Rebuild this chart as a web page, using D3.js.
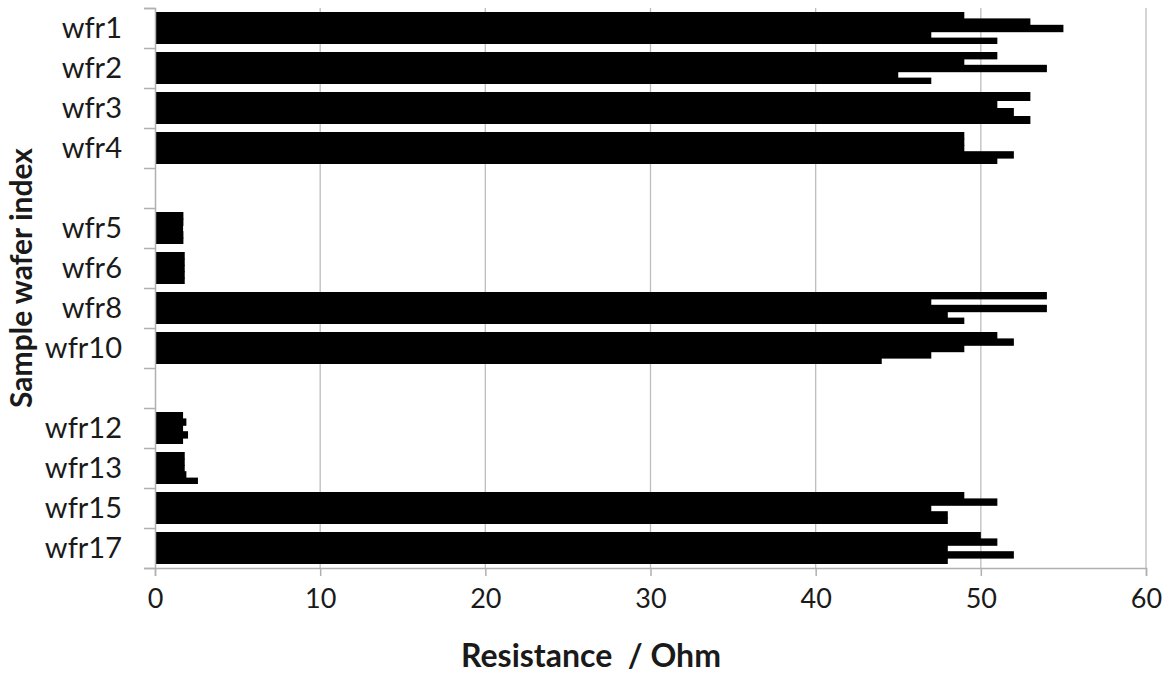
<!DOCTYPE html>
<html>
<head>
<meta charset="utf-8">
<script src="https://cdn.jsdelivr.net/npm/d3@7"></script>
<style>
    body { margin: 0; background: white; }
    svg { display: block; }
</style>
</head>
<body>
<div id="chart"></div>
<script>
// wafers, top to bottom (blank slots separate the three batches)
const wafers = ["wfr1", "wfr2", "wfr3", "wfr4", "gap1",
                "wfr5", "wfr6", "wfr8", "wfr10", "gap2",
                "wfr12", "wfr13", "wfr15", "wfr17"];

// resistance readings per wafer (Ohm)
const wfr1  = [49, 53, 55, 47, 51];
const wfr2  = [51, 49, 54, 45, 47];
const wfr3  = [53, 51, 52, 53];
const wfr4  = [49, 49, 49, 52, 51];
const wfr5  = [1.72, 1.72, 1.7, 1.72, 1.72];
const wfr6  = [1.8, 1.8, 1.8, 1.8, 1.8];
const wfr8  = [54, 47, 54, 48, 49];
const wfr10 = [51, 52, 49, 47, 44];
const wfr12 = [1.7, 1.9, 1.7, 2.0, 1.7];
const wfr13 = [1.8, 1.8, 1.8, 1.9, 2.6];
const wfr15 = [49, 51, 47, 48, 48];
const wfr17 = [50, 51, 48, 52, 48];

const xTicks = [0, 10, 20, 30, 40, 50, 60];

const readings = {wfr1, wfr2, wfr3, wfr4, wfr5, wfr6, wfr8, wfr10,
                  wfr12, wfr13, wfr15, wfr17};

function barchart() {
    const w = 1171, h = 673;
    const left = 155, right = 1146, top = 8, bottom = 568;

    const svg = d3.select("#chart").append("svg")
        .attr("width", w)
        .attr("height", h);

    const xScale = d3.scaleLinear()
        .domain([0, 60])
        .range([left, right]);

    const yScale = d3.scaleBand()
        .domain(wafers)
        .range([top, bottom])
        .paddingInner(0.2)
        .paddingOuter(0.1);

    // slot boundaries for the category tick marks
    const ySlot = d3.scaleLinear()
        .domain([0, wafers.length])
        .range([top, bottom]);

    // vertical gridlines
    svg.append("g")
        .selectAll("line")
        .data(xTicks.slice(1))
        .enter()
        .append("line")
        .attr("x1", d => xScale(d))
        .attr("x2", d => xScale(d))
        .attr("y1", top)
        .attr("y2", bottom)
        .attr("stroke", "#bdbdbd")
        .attr("stroke-width", 1.3);

    // bars
    svg.append("g")
        .selectAll("g")
        .data(wafers.filter(d => readings[d]))
        .enter()
        .append("g")
        .attr("transform", d => `translate(0,${yScale(d)})`)
        .each(function(name) {
            const vals = readings[name];
            const sub = d3.scaleBand()
                .domain(d3.range(vals.length))
                .range([0, yScale.bandwidth()]);
            d3.select(this).selectAll("rect")
                .data(vals)
                .enter()
                .append("rect")
                .attr("x", xScale(0))
                .attr("y", (d, i) => sub(i))
                .attr("width", d => xScale(d) - xScale(0))
                .attr("height", (d, i) => sub.bandwidth() + (i < vals.length - 1 ? 1 : 0))
                .attr("fill", "#000");
        });

    // x axis
    const xAxis = svg.append("g")
        .attr("transform", `translate(0,${bottom})`)
        .call(d3.axisBottom(xScale).tickValues(xTicks).tickSize(8).tickPadding(13));
    xAxis.select(".domain").attr("stroke", "#b0b0b0").attr("stroke-width", 1.5);
    xAxis.selectAll(".tick line").attr("stroke", "#b0b0b0").attr("stroke-width", 1.5);
    xAxis.selectAll("text")
        .style("font-family", "Lato, sans-serif")
        .style("font-size", "27px")
        .attr("fill", "#1a1a1a");

    // y axis: ticks between categories
    const yAxis = svg.append("g")
        .attr("transform", `translate(${left},0)`)
        .call(d3.axisLeft(ySlot).tickValues(d3.range(wafers.length + 1)).tickSize(11).tickFormat(""));
    yAxis.select(".domain").attr("stroke", "#b0b0b0").attr("stroke-width", 1.5);
    yAxis.selectAll(".tick line").attr("stroke", "#b0b0b0").attr("stroke-width", 1.5);

    // category labels
    svg.append("g")
        .selectAll("text")
        .data(wafers.filter(d => readings[d]))
        .enter()
        .append("text")
        .attr("x", left - 33)
        .attr("y", d => yScale(d) + yScale.bandwidth() / 2)
        .attr("dy", "0.35em")
        .attr("text-anchor", "end")
        .style("font-family", "Lato, sans-serif")
        .style("font-size", "29px")
        .attr("fill", "#1a1a1a")
        .text(d => d);

    // X Axis label
    svg.append("text")
        .attr("text-anchor", "middle")
        .attr("x", 591)
        .attr("y", 667)
        .style("font-family", "Lato, sans-serif")
        .style("font-weight", "bold")
        .style("font-size", "32px")
        .attr("fill", "#1a1a1a")
        .attr("xml:space", "preserve")
        .text("Resistance  / Ohm");

    // Y Axis label
    svg.append("text")
        .attr("text-anchor", "middle")
        .attr("transform", "rotate(-90)")
        .attr("x", -278)
        .attr("y", 32)
        .style("font-family", "Lato, sans-serif")
        .style("font-weight", "bold")
        .style("font-size", "30px")
        .attr("fill", "#1a1a1a")
        .text("Sample wafer index");
}

barchart();
</script>
</body>
</html>
